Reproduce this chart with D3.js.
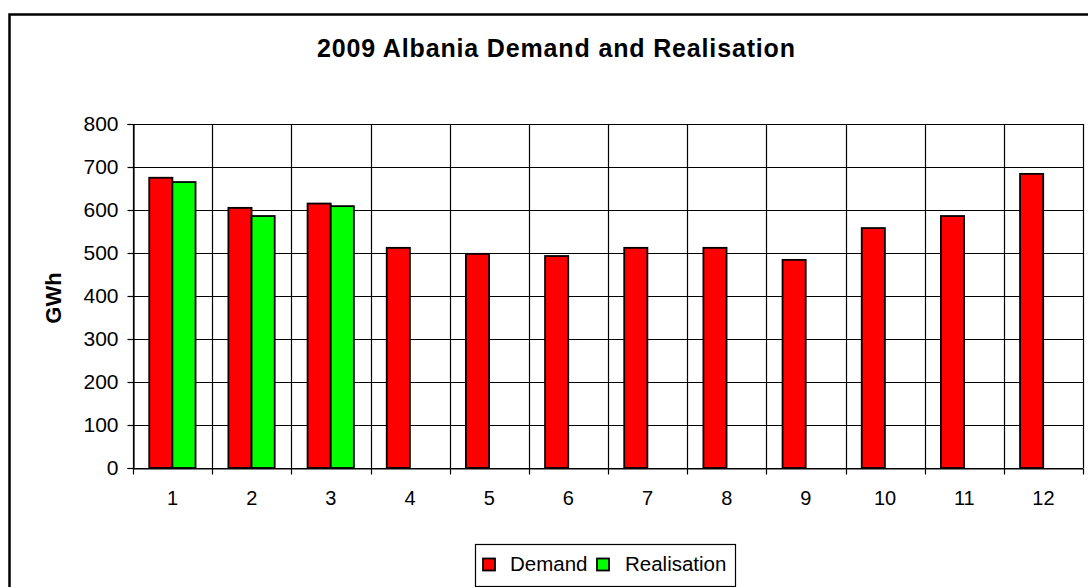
<!DOCTYPE html>
<html><head><meta charset="utf-8">
<script src="https://cdn.jsdelivr.net/npm/d3@7"></script>
<style>body{margin:0;background:#fff}svg{display:block}text{font-family:"Liberation Sans",Arial,sans-serif}</style>
</head><body>
<svg id="c" width="1088" height="587"></svg>
<script>
const months = ["1","2","3","4","5","6","7","8","9","10","11","12"];
const seriesNames = ["Demand","Realisation"];
const demand = [675,605,615,512,498,493,512,512,484,558,586,684];
const realisation = [665,586,609,null,null,null,null,null,null,null,null,null];
const yTicks = [0,100,200,300,400,500,600,700,800];
const colors = ["#ff0000","#00ff00"];

const svg = d3.select("#c");
svg.append("rect").attr("x",9.5).attr("y",14.5).attr("width",1200).attr("height",700)
  .attr("fill","#fff").attr("stroke","#000").attr("stroke-width",2.5);

const L=133,R=1083,T=124,B=468;
const x = d3.scaleBand().domain(months).range([L,R]).padding(0);
const y = d3.scaleLinear().domain([0,800]).range([B,T]);
const bw = x.bandwidth();
const xs = d3.scaleBand().domain(seriesNames).range([bw*0.205,bw*0.79]);

const g = svg.append("g");
g.selectAll(".hg").data(yTicks).enter().append("line")
  .attr("x1",L).attr("x2",R).attr("y1",d=>Math.round(y(d))+0.5).attr("y2",d=>Math.round(y(d))+0.5)
  .attr("stroke","#000").attr("stroke-width",1.2);
const bounds = months.map(m=>x(m)).concat([R]);
g.selectAll(".vg").data(bounds).enter().append("line")
  .attr("x1",d=>Math.round(d)+0.5).attr("x2",d=>Math.round(d)+0.5).attr("y1",T).attr("y2",B)
  .attr("stroke","#000").attr("stroke-width",1.2);

const data = [demand, realisation];
data.forEach((vals,si)=>{
  g.selectAll(".b"+si).data(months.map((m,i)=>({m,v:vals[i]})).filter(d=>d.v!=null)).enter().append("rect")
    .attr("x",d=>x(d.m)+xs(seriesNames[si]))
    .attr("width",xs.bandwidth())
    .attr("y",d=>y(d.v))
    .attr("height",d=>y(0)-y(d.v))
    .attr("fill",colors[si]).attr("stroke","#000").attr("stroke-width",1.8);
});

const ya = svg.append("g").attr("transform",`translate(${L+0.5},0)`)
  .call(d3.axisLeft(y).tickValues(yTicks).tickSize(6).tickPadding(9));
ya.select(".domain").attr("stroke","#000").attr("stroke-width",1.2);
ya.selectAll("line").attr("stroke","#000").attr("stroke-width",1.2);
ya.selectAll("text").attr("font-size",21).attr("fill","#000").attr("font-family","Liberation Sans, Arial, sans-serif");

const xa = svg.append("g").attr("transform",`translate(0,${Math.round(B)+0.5})`)
  .call(d3.axisBottom(x).tickSize(0).tickPadding(22));
xa.select(".domain").attr("stroke","#000").attr("stroke-width",1.2);
xa.selectAll("text").attr("font-size",20).attr("fill","#000").attr("font-family","Liberation Sans, Arial, sans-serif");
xa.selectAll(".bt").data(bounds).enter().append("line").attr("class","bt")
  .attr("x1",d=>Math.round(d)+0.5).attr("x2",d=>Math.round(d)+0.5).attr("y1",0).attr("y2",6)
  .attr("stroke","#000").attr("stroke-width",1.2);

svg.append("text").attr("x",556).attr("y",57).attr("text-anchor","middle")
  .attr("font-size",25).attr("font-weight","bold").attr("textLength",478).attr("lengthAdjust","spacing")
  .text("2009 Albania Demand and Realisation");
svg.append("text").attr("transform","translate(61,298) rotate(-90)").attr("text-anchor","middle")
  .attr("font-size",22).attr("font-weight","bold").text("GWh");

const lg = svg.append("g");
lg.append("rect").attr("x",475.5).attr("y",544.5).attr("width",260).attr("height",42)
  .attr("fill","#fff").attr("stroke","#000").attr("stroke-width",1.2);
const legX = [483,597], legTX=[510,625];
seriesNames.forEach((s,i)=>{
  lg.append("rect").attr("x",legX[i]).attr("y",558.5).attr("width",12).attr("height",12)
    .attr("fill",colors[i]).attr("stroke","#000").attr("stroke-width",1.8);
  lg.append("text").attr("x",legTX[i]).attr("y",571).attr("font-size",20.5).text(s);
});
</script>
</body></html>
